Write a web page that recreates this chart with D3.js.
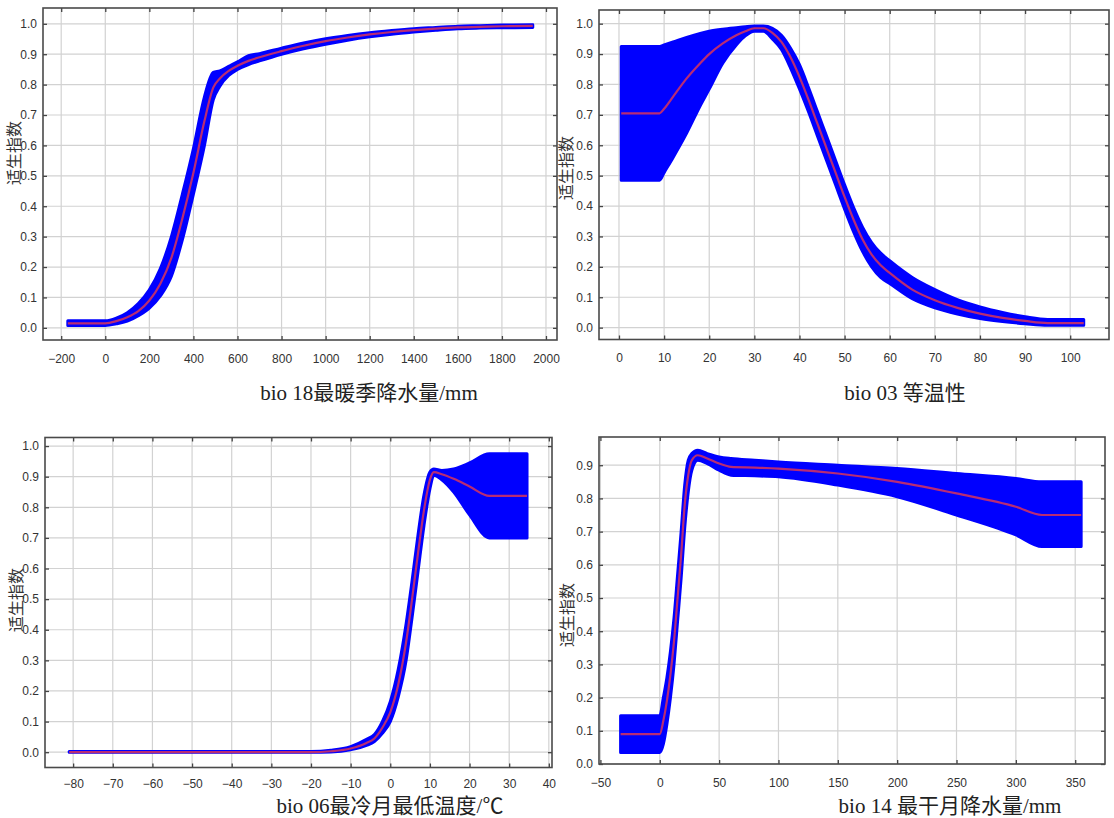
<!DOCTYPE html>
<html>
<head>
<meta charset="utf-8">
<script src="https://cdn.jsdelivr.net/npm/d3@7"></script>
<style>
body { margin: 0; background: #fff; }
.ylab { font-family: "Noto Sans CJK SC", sans-serif; font-size: 16px; fill: #333; }
.title { font-family: "Liberation Serif", "Noto Sans CJK SC", serif; font-size: 21px; fill: #222; }
</style>
</head>
<body>
<script>
var W = 1114, H = 818;

// bio 18 最暖季降水量
var bio18X     = [-170, 0, 50, 100, 150, 200, 250, 300, 350, 400, 450, 490, 520, 560, 600, 650, 700, 800, 900, 1000, 1100, 1200, 1300, 1400, 1500, 1600, 1700, 1800, 1940];
var bio18Mean  = [0.015, 0.015, 0.022, 0.035, 0.055, 0.09, 0.145, 0.23, 0.36, 0.51, 0.68, 0.79, 0.82, 0.845, 0.862, 0.878, 0.89, 0.91, 0.928, 0.943, 0.955, 0.965, 0.973, 0.979, 0.984, 0.988, 0.99, 0.992, 0.993];
var bio18Upper = [0.023, 0.023, 0.032, 0.05, 0.08, 0.125, 0.195, 0.3, 0.44, 0.59, 0.76, 0.84, 0.845, 0.86, 0.875, 0.895, 0.902, 0.92, 0.937, 0.951, 0.962, 0.971, 0.978, 0.984, 0.988, 0.992, 0.994, 0.996, 0.997];
var bio18Lower = [0.008, 0.008, 0.013, 0.022, 0.04, 0.065, 0.105, 0.17, 0.29, 0.44, 0.6, 0.75, 0.795, 0.83, 0.85, 0.866, 0.878, 0.9, 0.918, 0.933, 0.946, 0.957, 0.966, 0.973, 0.979, 0.984, 0.986, 0.987, 0.988];
var bio18Ticks = [-200, 0, 200, 400, 600, 800, 1000, 1200, 1400, 1600, 1800, 2000];

// bio 03 等温性
var bio03X     = [0.5, 9, 10, 12, 15, 18, 20, 23, 26, 28, 30, 32, 34, 36, 38, 40, 42, 44, 46, 48, 50, 52, 54, 56, 58, 60, 65, 70, 75, 80, 85, 90, 95, 103];
var bio03Mean  = [0.705, 0.705, 0.72, 0.76, 0.82, 0.87, 0.9, 0.935, 0.962, 0.975, 0.985, 0.985, 0.97, 0.94, 0.89, 0.825, 0.75, 0.67, 0.59, 0.51, 0.43, 0.355, 0.29, 0.24, 0.205, 0.18, 0.125, 0.09, 0.065, 0.046, 0.032, 0.022, 0.015, 0.015];
var bio03Upper = [0.925, 0.925, 0.93, 0.94, 0.955, 0.968, 0.975, 0.982, 0.987, 0.99, 0.992, 0.992, 0.985, 0.962, 0.92, 0.865, 0.79, 0.71, 0.63, 0.55, 0.47, 0.395, 0.33, 0.28, 0.245, 0.22, 0.165, 0.125, 0.092, 0.068, 0.05, 0.036, 0.027, 0.027];
var bio03Lower = [0.485, 0.485, 0.51, 0.56, 0.64, 0.73, 0.785, 0.87, 0.93, 0.96, 0.975, 0.975, 0.95, 0.915, 0.855, 0.785, 0.71, 0.63, 0.55, 0.47, 0.39, 0.315, 0.25, 0.2, 0.165, 0.145, 0.095, 0.065, 0.045, 0.03, 0.02, 0.013, 0.008, 0.008];
var bio03Ticks = [0, 10, 20, 30, 40, 50, 60, 70, 80, 90, 100];

// bio 06 最冷月最低温度
var bio06X     = [-81, -20, -15, -10, -6, -4, -2, 0, 2, 4, 5.5, 7, 8.5, 10, 11, 13, 16, 20, 25, 34.5];
var bio06Mean  = [0, 0, 0.003, 0.012, 0.03, 0.045, 0.08, 0.13, 0.22, 0.36, 0.5, 0.65, 0.79, 0.89, 0.915, 0.908, 0.893, 0.868, 0.837, 0.837];
var bio06Upper = [0.002, 0.002, 0.006, 0.018, 0.042, 0.058, 0.1, 0.165, 0.27, 0.42, 0.56, 0.71, 0.84, 0.915, 0.925, 0.92, 0.925, 0.945, 0.975, 0.975];
var bio06Lower = [0, 0, 0.001, 0.008, 0.022, 0.035, 0.062, 0.1, 0.18, 0.3, 0.44, 0.59, 0.74, 0.86, 0.905, 0.89, 0.85, 0.775, 0.7, 0.7];
var bio06Ticks = [-80, -70, -60, -50, -40, -30, -20, -10, 0, 10, 20, 30, 40];

// bio 14 最干月降水量
var bio14X     = [-33, 0, 3, 6, 9, 12, 15, 18, 21, 24, 27, 32, 40, 50, 60, 80, 100, 150, 200, 250, 300, 322, 355];
var bio14Mean  = [0.09, 0.09, 0.13, 0.19, 0.27, 0.37, 0.5, 0.63, 0.78, 0.87, 0.915, 0.93, 0.92, 0.905, 0.895, 0.893, 0.89, 0.875, 0.85, 0.815, 0.775, 0.75, 0.75];
var bio14Upper = [0.145, 0.145, 0.2, 0.26, 0.34, 0.44, 0.57, 0.7, 0.84, 0.915, 0.935, 0.945, 0.935, 0.925, 0.92, 0.915, 0.91, 0.9, 0.89, 0.875, 0.86, 0.85, 0.85];
var bio14Lower = [0.035, 0.035, 0.06, 0.12, 0.2, 0.3, 0.43, 0.56, 0.71, 0.82, 0.885, 0.915, 0.905, 0.885, 0.87, 0.868, 0.865, 0.84, 0.805, 0.75, 0.69, 0.655, 0.655];
var bio14Ticks = [-50, 0, 50, 100, 150, 200, 250, 300, 350];

var yTicks   = [0, 0.1, 0.2, 0.3, 0.4, 0.5, 0.6, 0.7, 0.8, 0.9, 1.0];
var yTicks14 = [0, 0.1, 0.2, 0.3, 0.4, 0.5, 0.6, 0.7, 0.8, 0.9];

var yLabel = "适生指数";

// frame position (px) and visible domain of each panel
var panels = [
  { xs: bio18X, mean: bio18Mean, up: bio18Upper, lo: bio18Lower, xt: bio18Ticks, yt: yTicks,
    title: "bio 18最暖季降水量/mm", left: 43, right: 557, top: 8, bottom: 340,
    xDom: [-282.6, 2050], yDom: [-0.04, 1.052], tx: 369, ty: 400, lx: 14, ly: 153, pad: 14 },
  { xs: bio03X, mean: bio03Mean, up: bio03Upper, lo: bio03Lower, xt: bio03Ticks, yt: yTicks,
    title: "bio 03 等温性", left: 599, right: 1109, top: 10, bottom: 339.5,
    xDom: [-4.43, 108.6], yDom: [-0.039, 1.045], tx: 905, ty: 400, lx: 566, ly: 168, pad: 14 },
  { xs: bio06X, mean: bio06Mean, up: bio06Upper, lo: bio06Lower, xt: bio06Ticks, yt: yTicks,
    title: "bio 06最冷月最低温度/℃", left: 45, right: 552, top: 437.5, bottom: 767.5,
    xDom: [-87.1, 40.8], yDom: [-0.05, 1.028], tx: 390, ty: 813, lx: 16, ly: 600, pad: 12 },
  { xs: bio14X, mean: bio14Mean, up: bio14Upper, lo: bio14Lower, xt: bio14Ticks, yt: yTicks14,
    title: "bio 14 最干月降水量/mm", left: 599, right: 1105, top: 437, bottom: 764,
    xDom: [-51.2, 375.1], yDom: [0, 0.985], tx: 950, ty: 813, lx: 567, ly: 615, pad: 14 }
];

var svg = d3.select("body").append("svg")
    .attr("width", W)
    .attr("height", H);

panels.forEach(drawPanel);

function drawPanel(p) {
    var x = d3.scaleLinear().domain(p.xDom).range([p.left, p.right]);
    var y = d3.scaleLinear().domain(p.yDom).range([p.bottom, p.top]);
    var g = svg.append("g");

    // grid
    g.selectAll(".vg").data(p.xt).enter().append("line")
        .attr("x1", d => x(d)).attr("x2", d => x(d))
        .attr("y1", p.top).attr("y2", p.bottom)
        .attr("stroke", "#d2d2d2").attr("stroke-width", 1.2);
    g.selectAll(".hg").data(p.yt).enter().append("line")
        .attr("x1", p.left).attr("x2", p.right)
        .attr("y1", d => y(d)).attr("y2", d => y(d))
        .attr("stroke", "#d2d2d2").attr("stroke-width", 1.2);

    // band + mean
    var rows = p.xs.map((v, i) => ({ x: v, m: p.mean[i], u: p.up[i], l: p.lo[i] }));
    var area = d3.area().curve(d3.curveMonotoneX)
        .x(d => x(d.x)).y0(d => y(d.l)).y1(d => y(d.u));
    var line = d3.line().curve(d3.curveMonotoneX)
        .x(d => x(d.x)).y(d => y(d.m));
    g.append("path").datum(rows).attr("d", area)
        .attr("fill", "#0000ff").attr("stroke", "#0000ff").attr("stroke-width", 3)
        .attr("stroke-linejoin", "round");
    g.append("path").datum(rows).attr("d", line)
        .attr("fill", "none").attr("stroke", "#b82c74").attr("stroke-width", 2.2);

    // axes, ticks point inward
    var fmtX = d3.format("d"), fmtY = d3.format(".1f");
    var axes = [
        g.append("g").attr("transform", `translate(0,${p.bottom})`)
            .call(d3.axisBottom(x).tickValues(p.xt).tickSize(-4).tickPadding(p.pad).tickFormat(fmtX)),
        g.append("g").attr("transform", `translate(${p.left},0)`)
            .call(d3.axisLeft(y).tickValues(p.yt).tickSize(-4).tickPadding(6).tickFormat(fmtY)),
        g.append("g").attr("transform", `translate(0,${p.top})`)
            .call(d3.axisTop(x).tickValues(p.xt).tickSize(-4).tickFormat("")),
        g.append("g").attr("transform", `translate(${p.right},0)`)
            .call(d3.axisRight(y).tickValues(p.yt).tickSize(-4).tickFormat(""))
    ];
    axes.forEach(function(a) {
        a.select(".domain").remove();
        a.selectAll("line").attr("stroke", "#444").attr("stroke-width", 1.3);
        a.selectAll("text")
            .attr("fill", "#333")
            .style("font-family", '"Liberation Sans", Arial, sans-serif')
            .style("font-size", "12px");
    });

    // frame
    g.append("rect")
        .attr("x", p.left).attr("y", p.top)
        .attr("width", p.right - p.left).attr("height", p.bottom - p.top)
        .attr("fill", "none").attr("stroke", "#4a4a4a").attr("stroke-width", 1.6);

    g.append("text").attr("class", "ylab")
        .attr("transform", `translate(${p.lx},${p.ly}) rotate(-90)`)
        .attr("text-anchor", "middle").attr("dy", "0.35em")
        .text(yLabel);

    g.append("text").attr("class", "title")
        .attr("x", p.tx).attr("y", p.ty)
        .attr("text-anchor", "middle")
        .text(p.title);
}
</script>
</body>
</html>
